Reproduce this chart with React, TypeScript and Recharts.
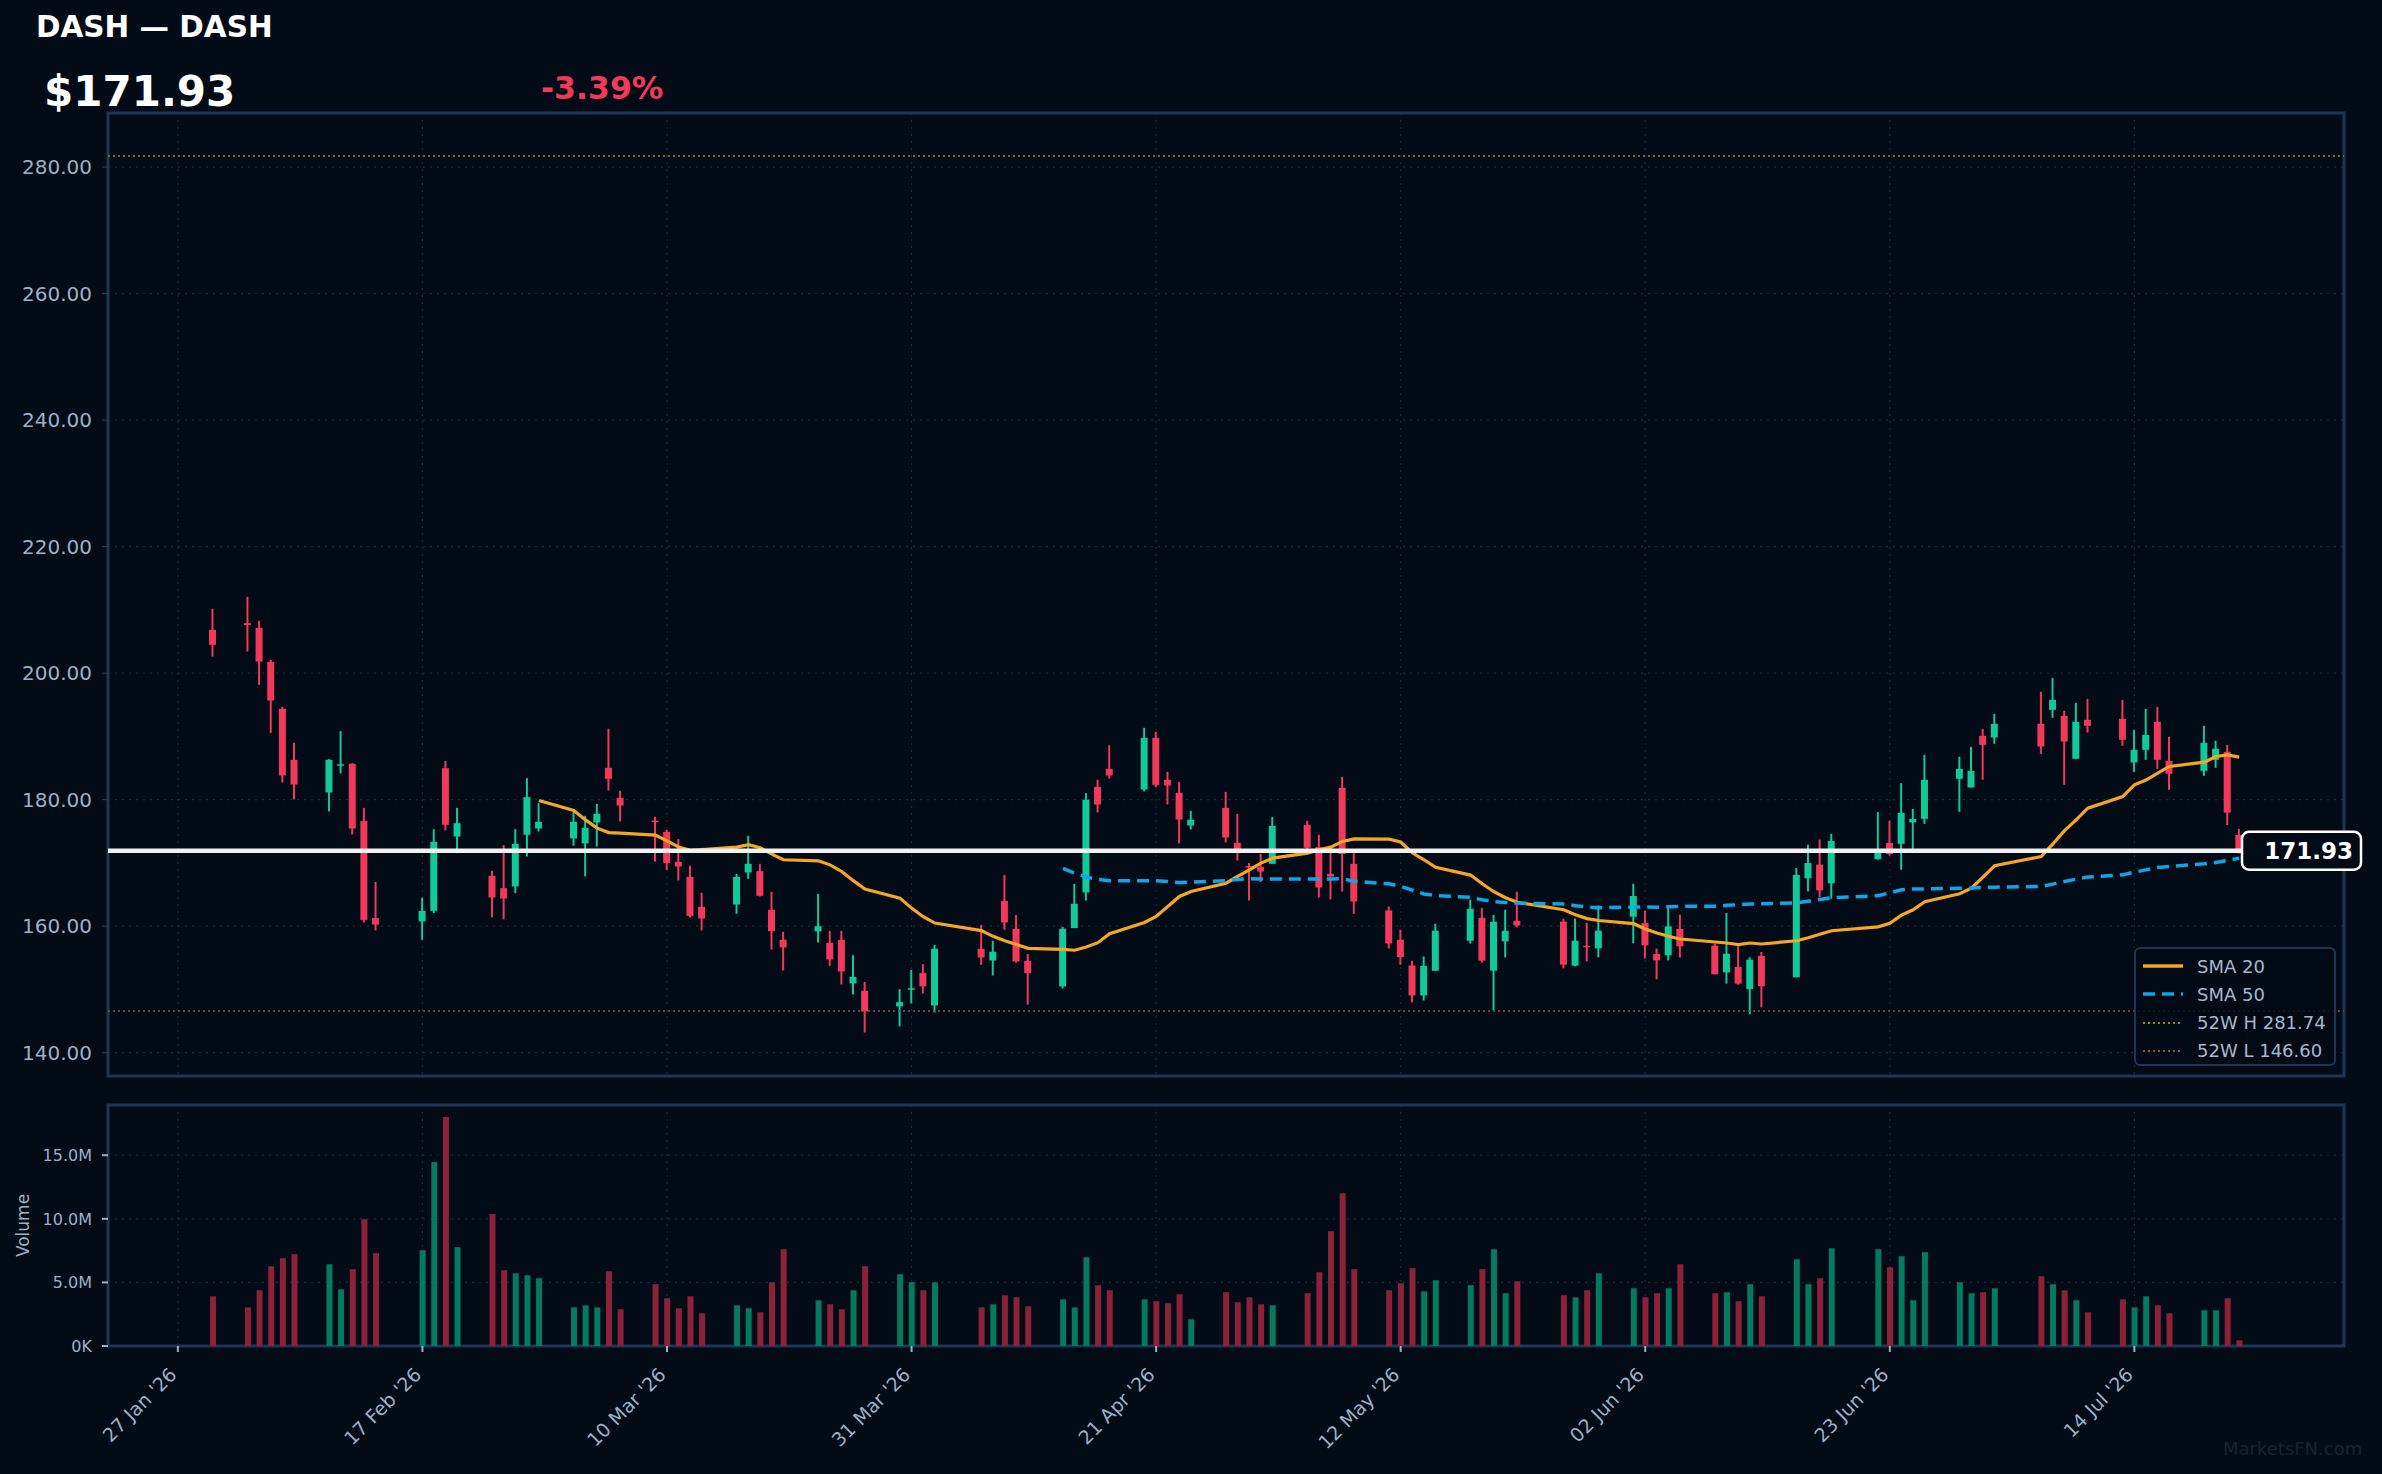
import React from 'react';
import { ComposedChart, Bar, Line, XAxis, YAxis, CartesianGrid, ReferenceLine, ReferenceArea, Cell } from 'recharts';

// trading days shown on the chart
const DATES = [
  '2026-01-30',
  '2026-02-02', '2026-02-03', '2026-02-04', '2026-02-05', '2026-02-06',
  '2026-02-09', '2026-02-10', '2026-02-11', '2026-02-12', '2026-02-13',
  '2026-02-17', '2026-02-18', '2026-02-19', '2026-02-20',
  '2026-02-23', '2026-02-24', '2026-02-25', '2026-02-26', '2026-02-27',
  '2026-03-02', '2026-03-03', '2026-03-04', '2026-03-05', '2026-03-06',
  '2026-03-09', '2026-03-10', '2026-03-11', '2026-03-12', '2026-03-13',
  '2026-03-16', '2026-03-17', '2026-03-18', '2026-03-19', '2026-03-20',
  '2026-03-23', '2026-03-24', '2026-03-25', '2026-03-26', '2026-03-27',
  '2026-03-30', '2026-03-31', '2026-04-01', '2026-04-02',
  '2026-04-06', '2026-04-07', '2026-04-08', '2026-04-09', '2026-04-10',
  '2026-04-13', '2026-04-14', '2026-04-15', '2026-04-16', '2026-04-17',
  '2026-04-20', '2026-04-21', '2026-04-22', '2026-04-23', '2026-04-24',
  '2026-04-27', '2026-04-28', '2026-04-29', '2026-04-30', '2026-05-01',
  '2026-05-04', '2026-05-05', '2026-05-06', '2026-05-07', '2026-05-08',
  '2026-05-11', '2026-05-12', '2026-05-13', '2026-05-14', '2026-05-15',
  '2026-05-18', '2026-05-19', '2026-05-20', '2026-05-21', '2026-05-22',
  '2026-05-26', '2026-05-27', '2026-05-28', '2026-05-29',
  '2026-06-01', '2026-06-02', '2026-06-03', '2026-06-04', '2026-06-05',
  '2026-06-08', '2026-06-09', '2026-06-10', '2026-06-11', '2026-06-12',
  '2026-06-15', '2026-06-16', '2026-06-17', '2026-06-18',
  '2026-06-22', '2026-06-23', '2026-06-24', '2026-06-25', '2026-06-26',
  '2026-06-29', '2026-06-30', '2026-07-01', '2026-07-02',
  '2026-07-06', '2026-07-07', '2026-07-08', '2026-07-09', '2026-07-10',
  '2026-07-13', '2026-07-14', '2026-07-15', '2026-07-16', '2026-07-17',
  '2026-07-20', '2026-07-21', '2026-07-22', '2026-07-23',
];

const OPEN = [
  206.85,
  207.9, 207.17, 201.79, 194.36, 186.3,
  181.14, 185.5, 185.67, 176.66, 161.28,
  160.75, 162.43, 184.98, 174.18,
  167.97, 166.02, 166.28, 174.45, 175.45,
  173.87, 173.08, 176.4, 185.04, 180.3,
  176.7, 174.92, 170.18, 167.8, 163.07,
  163.43, 168.49, 168.7, 162.6, 157.85,
  159.17, 157.38, 157.85, 150.95, 149.79,
  147.31, 150.1, 152.6, 147.47,
  156.43, 154.58, 164.01, 159.59, 154.53,
  150.47, 159.7, 165.33, 182.03, 184.88,
  181.6, 189.78, 183.14, 181.09, 175.92,
  178.71, 173.18, 169.5, 169.34, 169.86,
  176.03, 172.5, 168.28, 181.88, 169.86,
  162.49, 157.85, 153.8, 149.05, 152.95,
  157.7, 161.33, 152.97, 157.59, 160.85,
  160.72, 153.76, 156.9, 156.5,
  161.5, 160.5, 155.6, 155.4, 159.56,
  156.92, 152.7, 153.55, 150.08, 155.29,
  151.92, 167.57, 169.73, 166.78,
  170.6, 173.16, 173.02, 176.4, 176.97,
  183.3, 181.93, 190.1, 189.83,
  191.99, 194.2, 193.25, 186.46, 192.62,
  192.78, 185.88, 187.88, 192.31, 186.14,
  184.56, 186.3, 187.57, 174.42,
];

const HIGH = [
  210.17,
  212.06, 208.27, 202.1, 194.68, 189.0,
  186.4, 190.83, 185.77, 178.71, 167.0,
  164.5, 175.34, 186.14, 178.71,
  168.76, 172.81, 175.34, 183.4, 179.45,
  178.08, 177.45, 179.35, 191.2, 181.4,
  177.3, 175.24, 173.76, 169.55, 165.28,
  168.28, 174.29, 169.86, 165.44, 159.12,
  165.12, 159.27, 159.27, 155.4, 151.21,
  150.05, 153.1, 154.0, 157.06,
  160.22, 157.69, 168.12, 161.75, 155.6,
  159.9, 166.7, 181.05, 183.14, 188.6,
  191.36, 190.73, 184.4, 182.82, 178.24,
  181.24, 177.77, 169.97, 171.44, 177.29,
  176.66, 174.45, 172.5, 183.62, 171.55,
  163.12, 159.43, 154.53, 155.22, 160.38,
  164.2, 162.91, 161.8, 162.6, 165.45,
  161.19, 161.19, 160.56, 163.3,
  166.72, 162.45, 156.45, 162.98, 161.82,
  157.19, 162.1, 156.82, 155.08, 155.92,
  169.2, 172.9, 173.7, 174.6,
  178.04, 176.67, 182.61, 178.55, 187.09,
  186.78, 188.36, 191.2, 193.57,
  197.05, 199.26, 194.05, 195.31, 195.94,
  195.78, 191.04, 194.36, 194.68, 189.94,
  191.68, 189.3, 188.67, 175.37,
];

const LOW = [
  202.63,
  203.42, 198.16, 190.52, 182.72, 180.03,
  178.14, 184.14, 174.5, 160.59, 159.33,
  157.85, 162.07, 175.13, 171.55,
  161.38, 161.07, 165.23, 171.02, 174.97,
  172.71, 167.88, 172.6, 181.45, 176.55,
  170.2, 168.9, 167.23, 161.38, 159.33,
  161.96, 167.49, 164.7, 156.32, 153.0,
  157.43, 153.74, 150.79, 149.2, 143.2,
  144.15, 147.8, 149.37, 146.36,
  153.9, 152.2, 159.43, 154.27, 147.58,
  150.16, 159.7, 164.07, 177.98, 183.35,
  181.3, 181.98, 179.24, 173.08, 175.29,
  173.24, 170.39, 164.07, 166.97, 169.86,
  171.92, 164.54, 164.23, 165.49, 161.96,
  156.48, 153.9, 147.95, 148.26, 152.95,
  157.25, 154.25, 146.68, 155.06, 159.8,
  153.34, 153.66, 154.45, 155.08,
  157.29, 154.92, 151.6, 154.6, 155.08,
  152.4, 150.92, 150.76, 146.07, 147.18,
  151.92, 165.5, 164.56, 164.35,
  170.5, 171.16, 168.92, 172.23, 176.18,
  178.08, 181.93, 183.14, 188.83,
  187.25, 192.94, 182.35, 186.46, 190.62,
  188.51, 184.4, 186.3, 184.88, 181.56,
  183.77, 185.04, 176.0, 171.5,
];

const CLOSE = [
  204.48,
  207.6, 201.84, 195.68, 183.83, 182.4,
  186.3, 185.6, 175.45, 161.0, 160.27,
  162.43, 173.34, 176.03, 176.29,
  164.54, 164.38, 173.02, 180.4, 176.5,
  176.5, 175.55, 177.77, 183.3, 179.08,
  176.5, 169.97, 169.44, 161.64, 161.22,
  167.8, 169.86, 164.8, 159.22, 156.64,
  160.0, 154.74, 152.85, 152.0, 146.52,
  148.0, 150.2, 150.5, 156.43,
  155.06, 155.96, 160.59, 154.43, 152.58,
  159.59, 163.54, 180.0, 179.24, 183.83,
  189.78, 182.35, 182.24, 176.87, 176.82,
  174.03, 171.81, 169.4, 168.65, 175.87,
  172.39, 166.12, 167.86, 171.39, 163.91,
  157.27, 155.11, 149.05, 153.74, 159.3,
  162.75, 154.55, 160.7, 159.28, 160.1,
  153.92, 157.71, 156.8, 159.3,
  164.77, 156.98, 154.6, 159.98, 156.82,
  152.4, 155.66, 150.92, 154.71, 150.5,
  168.1, 169.99, 165.67, 173.47,
  172.1, 171.4, 177.92, 176.97, 183.14,
  184.88, 184.56, 188.67, 191.99,
  188.41, 195.78, 189.2, 192.31, 191.68,
  189.46, 187.88, 190.25, 186.3, 184.09,
  188.99, 188.04, 177.96, 171.93,
];

// volume in millions of shares
const VOLUME_M = [
  3.91,
  3.04, 4.38, 6.27, 6.9, 7.22,
  6.43, 4.46, 6.04, 9.97, 7.3,
  7.53, 14.46, 18.0, 7.77,
  10.37, 5.96, 5.72, 5.56, 5.33,
  3.04, 3.2, 3.04, 5.88, 2.89,
  4.86, 3.75, 2.97, 3.91, 2.57,
  3.2, 2.97, 2.65, 5.01, 7.61,
  3.6, 3.28, 2.89, 4.38, 6.27,
  5.64, 5.01, 4.38, 5.01,
  3.04, 3.28, 3.99, 3.83, 3.12,
  3.67, 3.04, 6.98, 4.78, 4.38,
  3.67, 3.52, 3.36, 4.07, 2.1,
  4.23, 3.44, 3.83, 3.28, 3.2,
  4.15, 5.8, 9.03, 12.02, 6.04,
  4.38, 4.93, 6.12, 4.3, 5.17,
  4.78, 6.04, 7.61, 4.15, 5.09,
  3.99, 3.83, 4.38, 5.72,
  4.54, 3.83, 4.15, 4.54, 6.43,
  4.15, 4.23, 3.52, 4.86, 3.91,
  6.82, 4.86, 5.33, 7.69,
  7.61, 6.19, 7.06, 3.6, 7.38,
  5.01, 4.15, 4.23, 4.54,
  5.49, 4.86, 4.38, 3.6, 2.65,
  3.67, 3.04, 3.91, 3.2, 2.57,
  2.81, 2.81, 3.75, 0.45,
];

// SMA 20 from 27 Feb, SMA 50 from 13 Apr (as drawn)
const SMA20 = [
  179.87,
  178.29, 176.8, 175.5, 174.8, 174.7,
  174.4, 173.5, 172.5, 172.0, 172.1,
  172.5, 172.9, 172.4, 171.4, 170.5,
  170.34, 169.7, 168.65, 167.2, 165.86,
  164.44, 162.86, 161.5, 160.5,
  159.3, 158.4, 157.7, 157.1, 156.5,
  156.35, 156.2, 156.7, 157.4, 158.8,
  160.6, 161.54, 163.1, 164.7, 165.5,
  166.8, 167.86, 168.9, 169.97, 170.76,
  171.55, 172.08, 172.5, 173.4, 173.8,
  173.76, 173.3, 171.6, 170.5, 169.3,
  168.08, 166.7, 165.45, 164.5, 163.78,
  162.6, 161.8, 161.2, 160.9,
  160.4, 159.56, 158.93, 158.4, 157.98,
  157.5, 157.34, 157.08, 157.34, 157.19,
  157.7, 158.18, 158.73, 159.28,
  159.9, 160.45, 161.75, 162.6, 163.86,
  165.12, 166.0, 167.76, 169.55,
  171.02, 173.0, 175.1, 176.8, 178.66,
  180.5, 182.35, 183.1, 184.2, 185.25,
  185.93, 186.83, 187.09, 186.72,
];

const SMA50 = [
  169.15, 168.4, 167.76, 167.4, 167.2,
  167.2, 167.2, 167.07, 166.9, 166.96,
  167.2, 167.4, 167.5, 167.45, 167.45,
  167.45, 167.45, 167.45, 167.5, 167.1,
  166.7, 166.3, 165.7, 165.1, 164.85,
  164.57, 164.18, 163.9, 163.76, 163.66,
  163.5, 163.25, 163.03, 162.93,
  163.03, 163.03, 163.0, 163.09, 163.14,
  163.14, 163.3, 163.4, 163.5, 163.56,
  163.7, 163.95, 164.23, 164.52,
  164.82, 165.28, 165.75, 165.9, 165.9,
  166.0, 166.0, 166.17, 166.17,
  166.28, 166.65, 167.07, 167.44, 167.76,
  168.12, 168.55, 168.9, 169.28, 169.44,
  169.86, 170.07, 170.39, 170.76,
];

const X_TICK_DATES = ['2026-01-27', '2026-02-17', '2026-03-10', '2026-03-31', '2026-04-21', '2026-05-12', '2026-06-02', '2026-06-23', '2026-07-14'];
const PRICE_TICKS = [140, 160, 180, 200, 220, 240, 260, 280];
const VOLUME_TICKS = [0, 5e6, 10e6, 15e6];
const HIGH_52W = 281.74;
const LOW_52W = 146.6;
const TICKER = 'DASH';
const NAME = 'DASH';

const BG = '#020b16';
const UP = '#12c99b';
const DOWN = '#f0395b';
const VOL_UP = '#057a5f';
const VOL_DOWN = '#8c2239';
const AXIS_TEXT = '#9cb1c7';
const GRID = '#1a2a3c';
const FRAME = '#1e3656';
const FONT = "'DejaVu Sans', sans-serif";

const MONTHS = ['Jan', 'Feb', 'Mar', 'Apr', 'May', 'Jun', 'Jul', 'Aug', 'Sep', 'Oct', 'Nov', 'Dec'];
const DAY0 = Date.UTC(2026, 0, 27);
const dayOf = (s: string) => {
  const [y, m, d] = s.split('-').map(Number);
  return Math.round((Date.UTC(y, m - 1, d) - DAY0) / 86400000);
};
const fmtDay = (v: number) => {
  const dt = new Date(DAY0 + v * 86400000);
  return `${String(dt.getUTCDate()).padStart(2, '0')} ${MONTHS[dt.getUTCMonth()]} '${String(dt.getUTCFullYear()).slice(2)}`;
};

const X_DOMAIN = [-6, 186];
const PRICE_DOMAIN = [136.32, 288.55];
const VOLUME_DOMAIN = [0, 18.95e6];

const data = DATES.map((date, i) => ({
  day: dayOf(date),
  open: OPEN[i],
  high: HIGH[i],
  low: LOW[i],
  close: CLOSE[i],
  volume: VOLUME_M[i] * 1e6,
  sma20: i >= 19 ? SMA20[i - 19] : null,
  sma50: i >= 49 ? SMA50[i - 49] : null,
  up: CLOSE[i] >= OPEN[i],
}));

const last = CLOSE[CLOSE.length - 1];
const prev = CLOSE[CLOSE.length - 2];
const changePct = ((last - prev) / prev) * 100;

const Candle = (props: any) => {
  const { x, y, width, height, payload } = props;
  if (x == null || !payload) return null;
  const { open, close, high, low } = payload;
  const top = Math.min(y, y + height);
  const h = Math.abs(height);
  const per = h / (high - low || 1);
  const yOf = (v: number) => top + (high - v) * per;
  const cx = x + width / 2;
  const color = close >= open ? UP : DOWN;
  const bodyTop = yOf(Math.max(open, close));
  const bodyH = Math.max(1.5, yOf(Math.min(open, close)) - bodyTop);
  return (
    <g>
      <line x1={cx} x2={cx} y1={top} y2={top + h} stroke={color} strokeWidth={2} />
      <rect x={cx - 3.5} y={bodyTop} width={7} height={bodyH} fill={color} />
    </g>
  );
};

const PriceTag = (props: any) => {
  const vb = props.viewBox;
  if (!vb) return null;
  const right = vb.x + vb.width;
  return (
    <g>
      <rect x={right - 102} y={vb.y - 19} width={119} height={38} rx={7} fill={BG} stroke="#ffffff" strokeWidth={2.5} />
      <text x={right + 9} y={vb.y} dy="0.36em" textAnchor="end" fill="#ffffff" fontWeight="bold" fontSize={23}>
        {last.toFixed(2)}
      </text>
    </g>
  );
};

const DateTick = (props: any) => {
  const { x, y, payload } = props;
  const ax = x;
  const ay = y + 22;
  return (
    <text x={ax} y={ay} textAnchor="end" fill={AXIS_TEXT} fontSize={19} transform={`rotate(-45, ${ax}, ${ay})`}>
      {fmtDay(payload.value)}
    </text>
  );
};

const VolumeLabel = (props: any) => {
  const vb = props.viewBox;
  const cy = vb ? vb.y + vb.height / 2 : 1225;
  return (
    <text x={23} y={cy} textAnchor="middle" dominantBaseline="central" fill={AXIS_TEXT} fontSize={17} transform={`rotate(-90, 23, ${cy})`}>
      Volume
    </text>
  );
};

const LEGEND = [
  { label: 'SMA 20', color: '#f5a623', dash: '', width: 3.5 },
  { label: 'SMA 50', color: '#0ea5e9', dash: '12 7', width: 3.5 },
  { label: `52W H ${HIGH_52W.toFixed(2)}`, color: '#8f8f14', dash: '2 3', width: 2 },
  { label: `52W L ${LOW_52W.toFixed(2)}`, color: '#94503c', dash: '2 3', width: 2 },
];

const App: React.FC = () => {
  const xTicks = X_TICK_DATES.map(dayOf);
  return (
    <div style={{ position: 'absolute', left: 0, top: 0, width: 2382, height: 1474, background: BG, fontFamily: FONT, overflow: 'hidden' }}>
      <div style={{ position: 'absolute', left: 36, top: 10, fontSize: 29.5, fontWeight: 'bold', color: '#ffffff', whiteSpace: 'nowrap' }}>
        {TICKER} — {NAME}
      </div>
      <div style={{ position: 'absolute', left: 44, top: 67, fontSize: 42, fontWeight: 'bold', color: '#ffffff' }}>
        ${last.toFixed(2)}
      </div>
      <div style={{ position: 'absolute', left: 541, top: 70, fontSize: 31.5, fontWeight: 'bold', color: DOWN }}>
        {changePct.toFixed(2)}%
      </div>

      <div style={{ position: 'absolute', left: 0, top: 0 }}>
        <ComposedChart width={2382} height={1086} data={data} margin={{ top: 113, right: 38, bottom: 10, left: 0 }}>
          <CartesianGrid stroke={GRID} strokeDasharray="2 5" strokeWidth={1.2} />
          <XAxis type="number" dataKey="day" domain={X_DOMAIN} ticks={xTicks} allowDataOverflow hide />
          <YAxis
            type="number"
            domain={PRICE_DOMAIN}
            ticks={PRICE_TICKS}
            allowDataOverflow
            width={108}
            axisLine={false}
            tickLine={{ stroke: '#2b3f57' }}
            tickSize={6}
            tickMargin={10}
            tick={{ fill: AXIS_TEXT, fontSize: 20 }}
            tickFormatter={(v: number) => v.toFixed(2)}
          />
          <ReferenceLine y={HIGH_52W} stroke="#8f8f14" strokeDasharray="2 3" strokeWidth={1.5} />
          <ReferenceLine y={LOW_52W} stroke="#94503c" strokeDasharray="2 3" strokeWidth={1.5} />
          <Bar dataKey={(d: any) => [d.low, d.high]} barSize={7} shape={(p: any) => <Candle {...p} />} isAnimationActive={false} />
          <Line type="linear" dataKey="sma20" stroke="#f5a623" strokeWidth={3.2} dot={false} activeDot={false} connectNulls={false} isAnimationActive={false} />
          <Line type="linear" dataKey="sma50" stroke="#0ea5e9" strokeWidth={3.5} strokeDasharray="12 7" dot={false} activeDot={false} connectNulls={false} isAnimationActive={false} />
          <ReferenceLine y={last} stroke="#f2f2f2" strokeWidth={4.5} label={(p: any) => <PriceTag {...p} />} />
          <ReferenceArea x1={X_DOMAIN[0]} x2={X_DOMAIN[1]} y1={PRICE_DOMAIN[0]} y2={PRICE_DOMAIN[1]} fill="none" fillOpacity={0} stroke={FRAME} strokeWidth={3} />
        </ComposedChart>
      </div>

      <div style={{ position: 'absolute', left: 0, top: 1080 }}>
        <ComposedChart width={2382} height={394} data={data} margin={{ top: 25, right: 38, bottom: 0, left: 0 }}>
          <CartesianGrid stroke={GRID} strokeDasharray="2 5" strokeWidth={1.2} />
          <XAxis
            type="number"
            dataKey="day"
            domain={X_DOMAIN}
            ticks={xTicks}
            allowDataOverflow
            height={128}
            axisLine={false}
            tickLine={{ stroke: AXIS_TEXT, strokeWidth: 2 }}
            tickSize={6}
            tick={(p: any) => <DateTick {...p} />}
          />
          <YAxis
            type="number"
            domain={VOLUME_DOMAIN}
            ticks={VOLUME_TICKS}
            allowDataOverflow
            width={108}
            axisLine={false}
            tickLine={{ stroke: AXIS_TEXT, strokeWidth: 2 }}
            tickSize={6}
            tickMargin={10}
            tick={{ fill: AXIS_TEXT, fontSize: 16 }}
            tickFormatter={(v: number) => (v === 0 ? '0K' : `${(v / 1e6).toFixed(1)}M`)}
            label={(p: any) => <VolumeLabel {...p} />}
          />
          <Bar dataKey="volume" barSize={6} isAnimationActive={false}>
            {data.map((d, i) => (
              <Cell key={i} fill={d.up ? VOL_UP : VOL_DOWN} />
            ))}
          </Bar>
          <ReferenceArea x1={X_DOMAIN[0]} x2={X_DOMAIN[1]} y1={VOLUME_DOMAIN[0]} y2={VOLUME_DOMAIN[1]} fill="none" fillOpacity={0} stroke={FRAME} strokeWidth={3} />
        </ComposedChart>
      </div>

      <div
        style={{
          position: 'absolute',
          left: 2134,
          top: 947,
          width: 202,
          height: 119,
          boxSizing: 'border-box',
          border: `2.5px solid ${FRAME}`,
          borderRadius: 6,
          background: 'rgba(2, 11, 22, 0.85)',
        }}
      >
        {LEGEND.map((item, i) => (
          <div key={item.label} style={{ position: 'absolute', left: 5, top: 4 + i * 28.3, height: 26, display: 'flex', alignItems: 'center' }}>
            <svg width={44} height={10} style={{ display: 'block' }}>
              <line x1={2} x2={42} y1={5} y2={5} stroke={item.color} strokeWidth={item.width} strokeDasharray={item.dash || undefined} />
            </svg>
            <span style={{ marginLeft: 12, fontSize: 18, color: '#a6b8cc', whiteSpace: 'nowrap' }}>{item.label}</span>
          </div>
        ))}
      </div>

      <div style={{ position: 'absolute', left: 2223, top: 1438, fontSize: 18, color: '#172231', whiteSpace: 'nowrap' }}>
        MarketsFN.com
      </div>
    </div>
  );
};

export default App;
